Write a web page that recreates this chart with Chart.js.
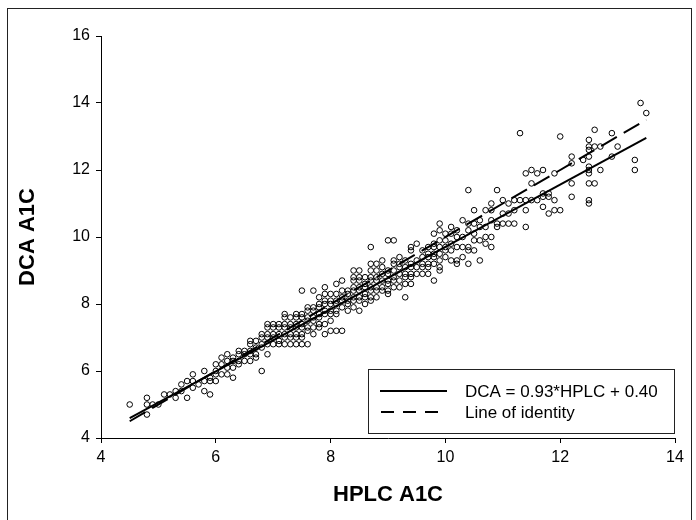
<!DOCTYPE html>
<html><head><meta charset="utf-8">
<script src="https://cdn.jsdelivr.net/npm/chart.js@4"></script>
<style>
html,body{margin:0;padding:0;background:#fff;}
#wrap{position:relative;width:696px;height:520px;overflow:hidden;}
#frame{position:absolute;left:7px;top:8px;width:683px;height:540px;border:1px solid #222;pointer-events:none;}
</style></head><body>
<div id="wrap"><canvas id="c" width="696" height="520"></canvas><div id="frame"></div></div>
<script>
// HPLC A1C values (x) and the DCA A1C readings observed at each of them (y)
const hplc = [4.5,4.8,4.9,5.0,5.1,5.2,5.3,5.4,5.5,5.6,5.7,5.8,5.9,6.0,6.1,6.2,6.3,6.4,6.5,6.6,6.7,6.8,6.9,7.0,7.1,7.2,7.3,7.4,7.5,7.6,7.7,7.8,7.9,8.0,8.1,8.2,8.3,8.4,8.5,8.6,8.7,8.8,8.9,9.0,9.1,9.2,9.3,9.4,9.5,9.6,9.7,9.8,9.9,10.0,10.1,10.2,10.3,10.4,10.5,10.6,10.7,10.8,10.9,11.0,11.1,11.2,11.3,11.4,11.5,11.6,11.7,11.8,11.9,12.0,12.2,12.4,12.5,12.6,12.7,12.9,13.0,13.3,13.4,13.5];
const dca = [
  [5.0],[5.2,5.0,4.7],[5.0],[5.0],[5.3],[5.3],[5.4,5.2],[5.6,5.4],[5.7,5.2],[5.9,5.7,5.5],
  [5.6],[6.0,5.7,5.4],[5.8,5.7,5.3],[6.2,6.0,5.9,5.7],[6.4,6.2,5.9],[6.5,6.3,6.1,5.9],[6.4,6.3,6.1,5.8],
  [6.6,6.5,6.3,6.2],[6.6,6.5,6.3],[6.9,6.8,6.6,6.5,6.3],[6.9,6.7,6.5,6.4],[7.1,7.0,6.8,6.7,6.0],
  [7.4,7.3,7.1,7.0,6.8,6.5],[7.4,7.3,7.1,7.0,6.8],[7.4,7.3,7.1,6.9,6.8],[7.7,7.6,7.4,7.3,7.1,7.0,6.8],
  [7.6,7.4,7.3,7.1,7.0,6.8],[7.7,7.6,7.4,7.3,7.1,7.0,6.8],[8.4,7.7,7.6,7.4,7.3,7.1,7.0,6.8],
  [7.9,7.8,7.6,7.5,7.3,7.2,6.8],[8.4,7.9,7.8,7.6,7.5,7.3,7.1],[8.2,8.0,7.9,7.7,7.6,7.4,7.3],
  [8.5,8.3,8.1,8.0,7.8,7.7,7.4,7.1],[8.3,8.1,8.0,7.8,7.7,7.5,7.2],[8.6,8.3,8.1,8.0,7.8,7.7,7.2],
  [8.7,8.4,8.2,8.1,7.9,7.2],[8.4,8.3,8.1,8.0,7.8],[9.0,8.8,8.7,8.5,8.4,8.2,8.1,7.9],
  [9.0,8.8,8.7,8.5,8.4,8.2,8.1,7.8],[8.8,8.6,8.5,8.3,8.2,8.0],[9.7,9.2,9.0,8.8,8.7,8.5,8.4,8.2,8.1],
  [9.2,9.0,8.8,8.7,8.5,8.4,8.2],[9.3,9.1,8.9,8.7,8.5,8.4],[9.9,9.0,8.9,8.7,8.6,8.4,8.3],
  [9.9,9.3,9.2,9.0,8.8,8.7,8.5],[9.4,9.2,9.1,8.9,8.7,8.5],[9.3,9.1,8.9,8.8,8.6,8.2],
  [9.7,9.6,9.2,9.1,8.9,8.8,8.6],[9.8,9.3,9.1,8.9],[9.6,9.4,9.2,9.1,8.9],[9.7,9.5,9.4,9.2,9.1,8.9],
  [10.1,9.8,9.7,9.5,9.4,9.2,8.7],[10.4,10.2,9.9,9.7,9.5,9.3,9.1,9.0],[10.1,9.9,9.7,9.6,9.4],
  [10.3,10.1,9.8,9.6,9.3],[10.2,10.0,9.7,9.3,9.2],[10.5,10.0,9.7,9.4],[11.4,10.4,10.2,9.7,9.6,9.2],
  [10.8,10.4,10.1,9.9,9.6],[10.5,10.3,9.9,9.3],[10.8,10.3,10.0,9.8],[11.0,10.8,10.5,10.0,9.7],
  [11.4,10.4,10.3],[11.1,10.7,10.4],[11.0,10.7,10.4],[11.1,10.8,10.4],[13.1,11.1],[11.9,11.1,10.8,10.3],
  [12.0,11.6,11.1],[11.9,11.1],[12.0,11.3,11.2,10.9],[11.3,11.2,10.7],[11.9,11.1,10.8],[13.0,10.8],
  [12.4,12.2,11.6,11.2],[12.3],[12.9,12.7,12.6,12.4,12.1,12.0,11.9,11.6,11.1,11.0],[13.2,12.7,11.6],
  [12.7,12.0],[13.1,12.4],[12.7],[12.3,12.0],[14.0],[13.7]
];
// Fitted line (DCA = 0.93*HPLC + 0.40) and line of identity, end points
const lineX = [4.5, 13.5];
const fitY = [4.59, 12.96];
const identityY = [4.5, 13.5];
const xTicks = [4, 6, 8, 10, 12, 14];
const yTicks = [4, 6, 8, 10, 12, 14, 16];
const legendLabels = ['DCA = 0.93*HPLC + 0.40', 'Line of identity'];

const points = [];
hplc.forEach((x, i) => dca[i].forEach(y => points.push({x: x, y: y})));
const fitPts = lineX.map((x, i) => ({x: x, y: fitY[i]}));
const idPts = lineX.map((x, i) => ({x: x, y: identityY[i]}));

const FAM = '"Liberation Sans", Arial, Helvetica, sans-serif';

const legendPlugin = {
  id: 'boxLegend',
  afterDraw(chart) {
    const ctx = chart.ctx;
    ctx.save();
    ctx.fillStyle = '#fff';
    ctx.fillRect(368.5, 369.5, 306, 64);
    ctx.strokeStyle = '#222'; ctx.lineWidth = 1;
    ctx.strokeRect(368.5, 369.5, 306, 64);
    ctx.strokeStyle = '#000'; ctx.lineWidth = 2;
    ctx.beginPath(); ctx.moveTo(380, 391); ctx.lineTo(447, 391); ctx.stroke();
    ctx.setLineDash([13, 9]);
    ctx.beginPath(); ctx.moveTo(381, 412); ctx.lineTo(440, 412); ctx.stroke();
    ctx.setLineDash([]);
    ctx.fillStyle = '#000';
    ctx.font = '17px ' + FAM;
    ctx.textBaseline = 'middle';
    ctx.fillText(legendLabels[0], 465, 392);
    ctx.fillText(legendLabels[1], 465, 413);
    ctx.restore();
  }
};

new Chart(document.getElementById('c'), {
  type: 'scatter',
  data: {
    datasets: [
      {type: 'line', data: fitPts, borderColor: '#000', borderWidth: 2, pointRadius: 0, fill: false, order: 0},
      {type: 'line', data: idPts, borderColor: '#000', borderWidth: 2, borderDash: [18, 8], pointRadius: 0, fill: false, order: 0},
      {data: points, pointRadius: 2.8, pointBorderWidth: 1, pointBorderColor: '#000', pointBackgroundColor: 'rgba(0,0,0,0)', order: 1}
    ]
  },
  options: {
    responsive: false,
    animation: false,
    events: [],
    layout: {padding: {top: 36, right: 21, left: 0, bottom: 0}},
    plugins: {legend: {display: false}, tooltip: {enabled: false}},
    scales: {
      x: {
        type: 'linear', min: 4, max: 14,
        afterBuildTicks(s) { s.ticks = xTicks.map(v => ({value: v})); },
        afterFit(s) { s.height = 82; },
        ticks: {color: '#000', font: {size: 16, family: FAM}, padding: 5},
        grid: {drawOnChartArea: false, drawTicks: true, tickLength: 5, color: '#000'},
        border: {display: true, color: '#000', width: 1},
        title: {display: true, text: 'HPLC A1C', color: '#000', font: {size: 22, weight: 'bold', family: FAM}, padding: {top: 0, bottom: 12}}
      },
      y: {
        type: 'linear', min: 4, max: 16,
        afterBuildTicks(s) { s.ticks = yTicks.map(v => ({value: v})); },
        afterFit(s) { s.width = 101; },
        ticks: {color: '#000', font: {size: 16, family: FAM}, padding: 6},
        grid: {drawOnChartArea: false, drawTicks: true, tickLength: 5, color: '#000'},
        border: {display: true, color: '#000', width: 1},
        title: {display: true, text: 'DCA A1C', color: '#000', font: {size: 22, weight: 'bold', family: FAM}, padding: {top: 15, bottom: 0}}
      }
    }
  },
  plugins: [legendPlugin]
});
</script>
</body></html>
